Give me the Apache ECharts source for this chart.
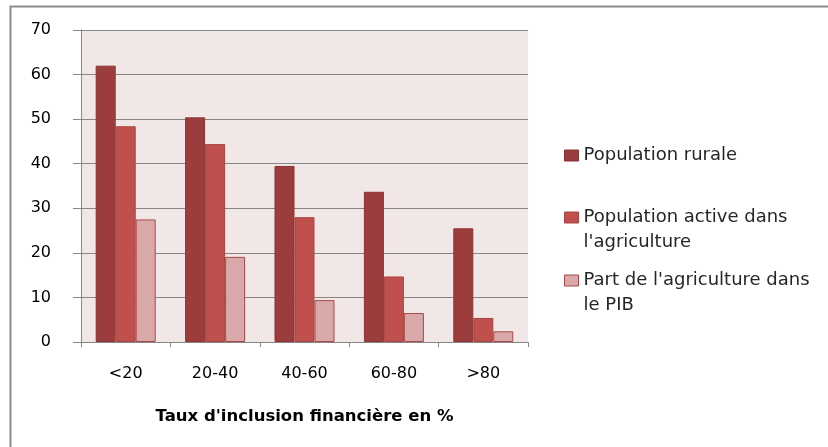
<!DOCTYPE html>
<html>
<head>
<meta charset="utf-8">
<script src="https://cdn.jsdelivr.net/npm/echarts@6/dist/echarts.min.js"></script>
<style>
  html, body { margin: 0; padding: 0; background: #fff; }
  #chart { width: 828px; height: 447px; }
</style>
</head>
<body>
<div id="chart"></div>
<script>
// données
const categories = ['<20', '20-40', '40-60', '60-80', '>80']
const popRurale = [62, 50.4, 39.5, 33.7, 25.5]
const popActive = [48.4, 44.4, 28, 14.7, 5.4]
const partPib = [27.5, 19.1, 9.4, 6.5, 2.4]
const seriesNames = ['Population rurale', 'Population active dans l\'agriculture', 'Part de l\'agriculture dans le PIB']
// ligne vide en tête : l'icône reste alignée sur la première ligne du texte
const legendLabels = ['Population rurale', '\nPopulation active dans\nl\'agriculture', '\nPart de l\'agriculture dans\nle PIB']

const font = 'DejaVu Sans'
const chart = echarts.init(document.getElementById('chart'))

// une légende par série pour placer chaque entrée comme dans l'original
const makeLegend = (i, top) => ({
  data: [seriesNames[i]],
  left: 564,
  top: top,
  padding: 0,
  icon: 'rect',
  itemWidth: 14,
  itemHeight: 11,
  selectedMode: false,
  formatter: () => legendLabels[i],
  itemStyle: { borderWidth: 1 },
  textStyle: {
    fontFamily: font,
    fontSize: 18,
    color: '#262626',
    lineHeight: 25
  }
})

chart.setOption({
  animation: false,
  backgroundColor: '#fff',
  graphic: [{
    type: 'rect',
    shape: { x: 10.5, y: 6.5, width: 900, height: 500 },
    style: { fill: 'none', stroke: '#8c8c8c', lineWidth: 2 },
    silent: true
  }],
  grid: {
    left: 81, right: 300, top: 30, bottom: 105,
    show: true,
    backgroundColor: '#f2e7e7',
    borderWidth: 0
  },
  legend: [
    makeLegend(0, 143),
    makeLegend(1, 180),
    makeLegend(2, 243)
  ],
  xAxis: {
    type: 'category',
    data: categories,
    name: 'Taux d\'inclusion financière en %',
    nameLocation: 'middle',
    nameGap: 66,
    nameTextStyle: { fontFamily: font, fontSize: 16.5, fontWeight: 'bold', color: '#000' },
    axisLine: { lineStyle: { color: '#868686', width: 1 } },
    axisTick: { show: true, length: 5, lineStyle: { color: '#868686' } },
    axisLabel: { margin: 24, fontFamily: font, fontSize: 16, color: '#000' }
  },
  yAxis: {
    type: 'value',
    min: 0, max: 70, interval: 10,
    axisLine: { show: true, lineStyle: { color: '#868686', width: 1 } },
    axisTick: { show: true, length: 8, lineStyle: { color: '#868686' } },
    axisLabel: { margin: 30, fontFamily: font, fontSize: 16, color: '#000' },
    splitLine: { lineStyle: { color: '#868686', width: 1 } }
  },
  series: [
    {
      name: seriesNames[0], type: 'bar', data: popRurale,
      barWidth: 20, barGap: '0%',
      itemStyle: { color: '#9b3d3d', borderColor: '#8a3434', borderWidth: 1 }
    },
    {
      name: seriesNames[1], type: 'bar', data: popActive,
      barWidth: 20, barGap: '0%',
      itemStyle: { color: '#c0504d', borderColor: '#a84440', borderWidth: 1 }
    },
    {
      name: seriesNames[2], type: 'bar', data: partPib,
      barWidth: 20, barGap: '0%',
      itemStyle: { color: '#d9a8a8', borderColor: '#a84848', borderWidth: 1 }
    }
  ]
})
</script>
</body>
</html>
